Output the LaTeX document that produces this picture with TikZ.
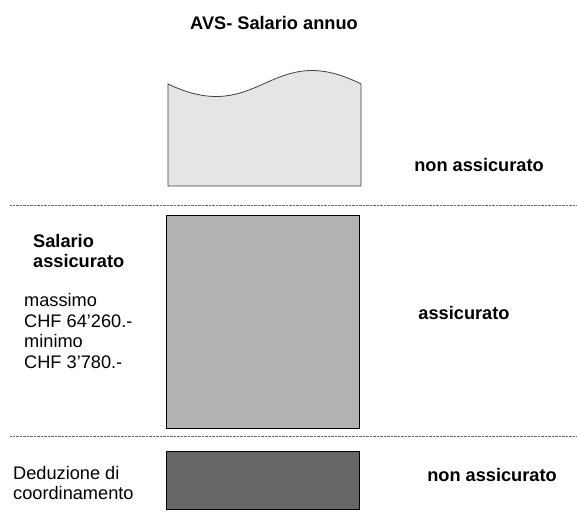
\documentclass[tikz,border=0pt]{standalone}
\usepackage{fontspec}
\setmainfont{Liberation Sans}
\usetikzlibrary{positioning}

\begin{document}
\begin{tikzpicture}[
    x=1pt, y=-1pt,
    txt/.style={inner sep=0pt, align=left, font=\fontsize{18.2}{20.7}\selectfont},
    bold/.style={txt, font=\fontsize{18.2}{20.7}\selectfont\bfseries},
    box/.style={draw=black, line width=0.8pt},
    sep/.style={draw=black!60, line width=0.9pt, dash pattern=on 0.8pt off 0.6pt}
]
\useasboundingbox (0,0) rectangle (577,517);
% wave-topped part of the AVS salary
\filldraw[box, fill=black!10, draw=black!75] (168,84) .. controls (260,128) and (270,38) .. (361,84)
    -- (361,186) -- (168,186) -- cycle;
\node[box, fill=black!30, minimum width=193pt, minimum height=213pt, anchor=north west] (ins) at (166,215) {};
\node[box, fill=black!60, minimum width=193pt, minimum height=58pt, anchor=north west] (coord) at (166,451) {};
\coordinate (l1a) at (10,205);
\coordinate (l1b) at (577,205);
\coordinate (l2a) at (10,436);
\coordinate (l2b) at (577,436);
\draw[sep] (l1a) -- (l1b);
\draw[sep] (l2a) -- (l2b);
\node[bold] (title) at (274,23) {AVS- Salario annuo};
\node[bold] (nonins1) at (479,165) {non assicurato};
\node[bold] (insd) at (464,313) {assicurato};
\node[bold] (nonins2) at (492,475) {non assicurato};
\node[bold, anchor=west] (salins) at (33,251) {Salario\\assicurato};
\node[txt, anchor=west] (limits) at (24,331) {massimo\\CHF 64'260.-\\minimo\\CHF 3'780.-};
\node[txt, anchor=west] (deduct) at (13,483) {Deduzione di\\coordinamento};
\end{tikzpicture}
\end{document}
